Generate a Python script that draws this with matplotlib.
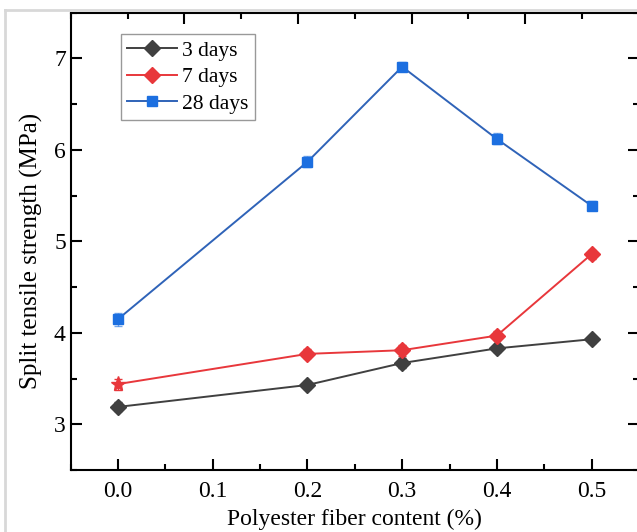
"""
Split tensile strength vs polyester fiber content
"""
import matplotlib
matplotlib.use("Agg")
import matplotlib.pyplot as plt
from matplotlib.lines import Line2D
from matplotlib.ticker import MultipleLocator, FormatStrFormatter

plt.rcParams['font.family'] = ['Liberation Serif', 'DejaVu Serif']

# Data
fiber_content = [0.0, 0.2, 0.3, 0.4, 0.5]
days3 = [3.19, 3.43, 3.67, 3.83, 3.93]
days7 = [3.44, 3.77, 3.81, 3.97, 4.86]
days28 = [4.15, 5.87, 6.91, 6.12, 5.39]
err3 = [0.05, 0.04, 0.05, 0.04, 0.04]
err7 = [0.06, 0.05, 0.06, 0.05, 0.05]
err28 = [0.07, 0.06, 0.05, 0.06, 0.05]
series_labels = ["3 days", "7 days", "28 days"]

fig = plt.figure(figsize=(6.37, 5.32), dpi=100)
ax = fig.add_axes([0.111, 0.1165, 0.892, 0.8595])

grey = '#404040'
red = '#e8373b'
blue = '#1c6fe0'

# error bars first, then lines with markers
ax.errorbar(fiber_content, days3, yerr=err3, fmt='none', ecolor=grey, elinewidth=1, capsize=3)
ax.errorbar(fiber_content, days7, yerr=err7, fmt='none', ecolor=red, elinewidth=1, capsize=3)
ax.errorbar(fiber_content, days28, yerr=err28, fmt='none', ecolor=blue, elinewidth=1, capsize=3, alpha=0.6)

ax.plot(fiber_content, days3, color=grey, lw=1.4, marker='D', markersize=8, label=series_labels[0])
# first 7-day point is drawn as a star in the original
ax.plot(fiber_content, days7, color=red, lw=1.4, marker='D', markersize=8,
        markevery=[1, 2, 3, 4], label=series_labels[1])
ax.plot(fiber_content[:1], days7[:1], color=red, lw=0, marker='*', markersize=11)
ax.plot(fiber_content, days28, color='#2f63b8', lw=1.4, marker='s', markersize=7,
        markerfacecolor=blue, markeredgecolor=blue, label=series_labels[2])

ax.set_xlim(-0.05, 0.55)
ax.set_ylim(2.5, 7.5)
ax.xaxis.set_major_locator(MultipleLocator(0.1))
ax.xaxis.set_minor_locator(MultipleLocator(0.05))
ax.yaxis.set_major_locator(MultipleLocator(1))
ax.yaxis.set_minor_locator(MultipleLocator(0.5))
ax.xaxis.set_major_formatter(FormatStrFormatter('%.1f'))
ax.tick_params(which='both', direction='in', top=False, right=True, width=1.5, labelsize=17)
ax.tick_params(which='major', length=8)
ax.tick_params(which='minor', length=4)
ax.tick_params(axis='x', pad=8)
for s in ax.spines.values():
    s.set_linewidth(1.5)

ax.set_xlabel("Polyester fiber content (%)", fontsize=17, labelpad=5)
ax.set_ylabel("Split tensile strength (MPa)", fontsize=18, labelpad=8)
ax.yaxis.label.set_y(0.479)

# top axis in the original has its own tick spacing
top = ax.twiny()
top.set_xlim(0, 1)
top.xaxis.set_major_locator(MultipleLocator(0.2))
top.xaxis.set_minor_locator(MultipleLocator(0.1))
top.tick_params(which='both', direction='in', top=True, bottom=False, labeltop=False, width=1.5)
top.tick_params(which='major', length=8)
top.tick_params(which='minor', length=4)
top.set_xticks([0.2, 0.4, 0.6, 0.8])
for s in top.spines.values():
    s.set_visible(False)

leg = ax.legend(loc='upper left', bbox_to_anchor=(0.088, 0.953), fontsize=15.5,
                frameon=True, fancybox=False, edgecolor='#808080', handlelength=2.3,
                borderpad=0.3, labelspacing=0.3, handletextpad=0.25, borderaxespad=0)
leg.get_frame().set_linewidth(1.0)

# light grey screenshot border
fig.add_artist(Line2D([0.008, 0.008], [0, 0.982], transform=fig.transFigure, color='#d8d8d8', lw=2))
fig.add_artist(Line2D([0.008, 1], [0.982, 0.982], transform=fig.transFigure, color='#d8d8d8', lw=2))

fig.savefig("out.png", dpi=100)
